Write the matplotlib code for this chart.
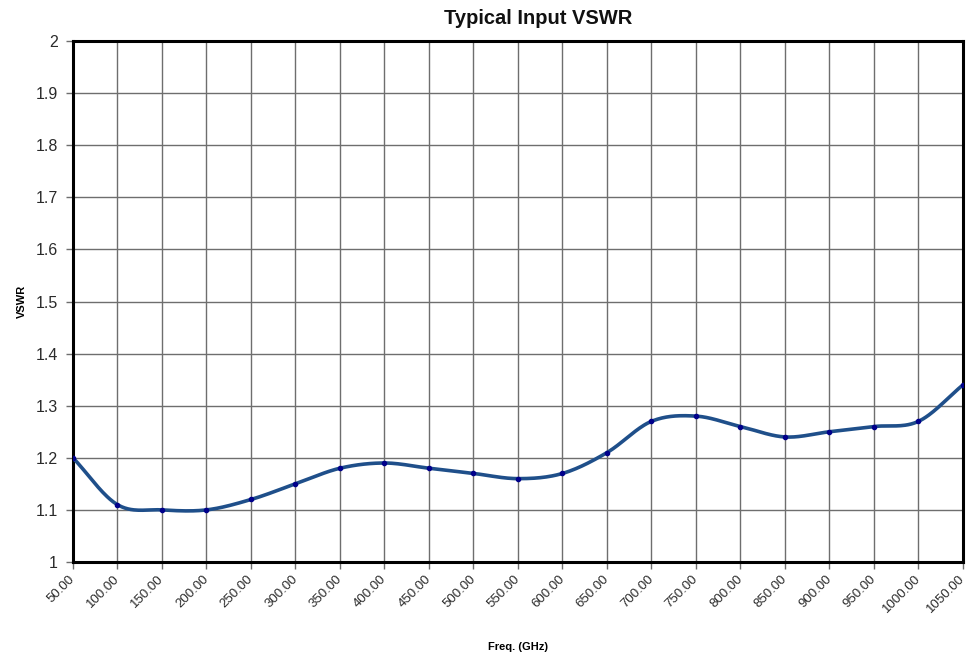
import numpy as np
import matplotlib
matplotlib.use("Agg")
import matplotlib.pyplot as plt

freq = [50, 100, 150, 200, 250, 300, 350, 400, 450, 500, 550,
        600, 650, 700, 750, 800, 850, 900, 950, 1000, 1050]
vswr = [1.20, 1.11, 1.10, 1.10, 1.12, 1.15, 1.18, 1.19, 1.18, 1.17, 1.16,
        1.17, 1.21, 1.27, 1.28, 1.26, 1.24, 1.25, 1.26, 1.27, 1.34]
xtick_labels = [f"{f:.2f}" for f in freq]
yticks = [1, 1.1, 1.2, 1.3, 1.4, 1.5, 1.6, 1.7, 1.8, 1.9, 2]
ytick_labels = ["1", "1.1", "1.2", "1.3", "1.4", "1.5", "1.6", "1.7", "1.8", "1.9", "2"]

plt.rcParams['font.family'] = ['Liberation Sans', 'DejaVu Sans']

def smooth(x, y, n=30):
    x = np.asarray(x, float); y = np.asarray(y, float)
    px = np.concatenate([[2*x[0]-x[1]], x, [2*x[-1]-x[-2]]])
    py = np.concatenate([[2*y[0]-y[1]], y, [2*y[-1]-y[-2]]])
    xs, ys = [], []
    t = np.linspace(0, 1, n, endpoint=False)
    for i in range(1, len(px)-2):
        p0, p1, p2, p3 = (np.array([px[j], py[j]]) for j in (i-1, i, i+1, i+2))
        b1 = p1 + (p2 - p0) / 6
        b2 = p2 - (p3 - p1) / 6
        pts = ((1-t)**3)[:, None]*p1 + (3*(1-t)**2*t)[:, None]*b1 + (3*(1-t)*t**2)[:, None]*b2 + (t**3)[:, None]*p2
        xs.append(pts[:, 0]); ys.append(pts[:, 1])
    xs.append([x[-1]]); ys.append([y[-1]])
    return np.concatenate(xs), np.concatenate(ys)

fig = plt.figure(figsize=(9.7, 6.58), dpi=100)
ax = fig.add_axes([73/970, 1-562/658, (963-73)/970, (562-41)/658])

sx, sy = smooth(freq, vswr)
ax.plot(sx, sy, color='#1f4f8a', lw=2.6, solid_capstyle='round', zorder=3)
ax.plot(freq, vswr, 'o', color='#00008b', ms=3, zorder=4)

ax.set_xlim(50, 1050)
ax.set_ylim(1, 2)
ax.set_xticks(freq)
ax.set_xticklabels(xtick_labels, rotation=45, ha='right', va='center',
                   rotation_mode='anchor', fontsize=9.5)
ax.set_yticks(yticks)
ax.set_yticklabels(ytick_labels, fontsize=11.5)
ax.grid(True, color='#6e6e6e', lw=1)
ax.set_axisbelow(True)
for s in ax.spines.values():
    s.set_linewidth(2.2)
    s.set_color('black')
ax.tick_params(axis='both', length=5, width=1, color='#6e6e6e', labelcolor='#2a2a2a')
ax.tick_params(axis='y', pad=6)
ax.tick_params(axis='x', pad=6)

fig.text(538/970, 1-18/658, "Typical Input VSWR", fontsize=14.5, fontweight='bold',
         ha='center', va='center', color='#111111')
ax.set_xlabel("Freq. (GHz)", fontsize=8, fontweight='bold', labelpad=19)
ax.set_ylabel("VSWR", fontsize=8, fontweight='bold', labelpad=6)

fig.savefig("out.png", dpi=100)
